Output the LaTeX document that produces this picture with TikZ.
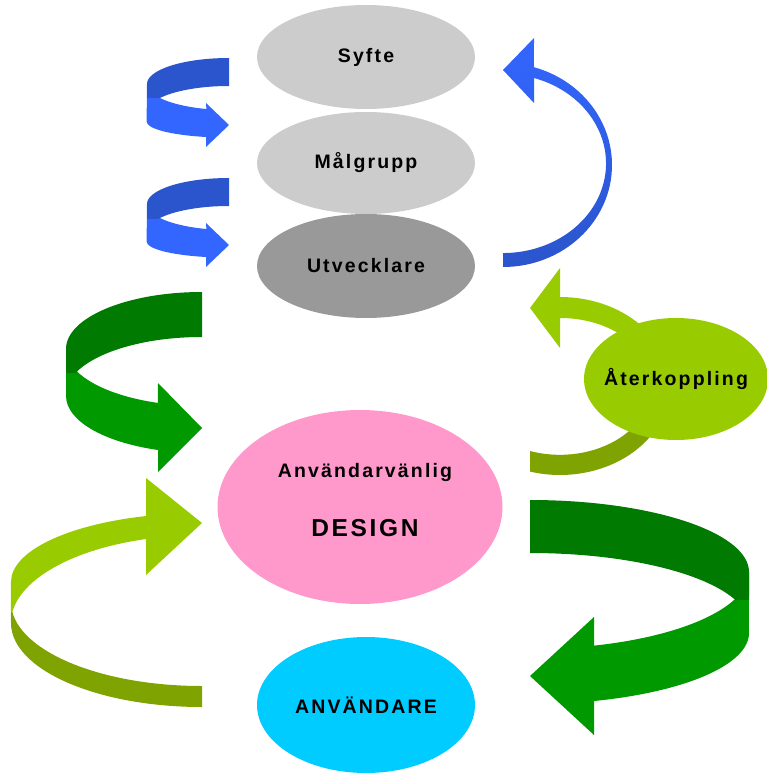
\documentclass[tikz,border=0pt]{standalone}
\usepackage{fontspec}
\setmainfont{Liberation Sans}
\newfontfamily\spacedfont[LetterSpace=11]{Liberation Sans}
\usetikzlibrary{shapes.geometric}
\definecolor{grisclair}{HTML}{CCCCCC}
\definecolor{grisfonce}{HTML}{999999}
\definecolor{rose}{HTML}{FF99CC}
\definecolor{ciel}{HTML}{00CCFF}
\definecolor{anis}{HTML}{99CC00}
\definecolor{olivefonce}{HTML}{7FA300}
\definecolor{vert}{HTML}{009900}
\definecolor{vertfonce}{HTML}{007A00}
\definecolor{bleu}{HTML}{3366FF}
\definecolor{bleufonce}{HTML}{2B55CC}
\begin{document}
\begin{tikzpicture}[x=1pt, y=1pt, yscale=-1,
	bulle/.style={ellipse, inner sep=0pt, font=\spacedfont\bfseries\fontsize{19.5}{23}\selectfont}]
	\useasboundingbox (0,0) rectangle (767,773);
	\foreach \dy in {0,120} {
		\begin{scope}[shift={(0,\dy)}]
			\fill[bleu] (147,84) arc[start angle=180, end angle=106, x radius=82, y radius=26] -- (206,103) -- (229,125) -- (206,147) -- (206,137) arc[start angle=106, end angle=180, x radius=82, y radius=16] -- cycle;
			\clip (0,0) rectangle (767,98);
			\fill[bleufonce] (229,58) arc[start angle=270, end angle=180, x radius=82, y radius=26] -- (147,112) arc[start angle=180, end angle=270, x radius=82, y radius=26] -- cycle;
		\end{scope}
	}
	\shade[top color=bleu, bottom color=bleufonce] (503,267) arc[start angle=90, end angle=-73.5, x radius=109, y radius=102] -- (534,38) -- (503,70) -- (534,103) -- (534,78) arc[start angle=-72.5, end angle=90, x radius=103, y radius=89.6] -- cycle;
	\fill[vert] (66,349) arc[start angle=180, end angle=108.9, x radius=136, y radius=57] -- (158,383) -- (202,428) -- (158,472) -- (158,450) arc[start angle=108.9, end angle=180, x radius=136, y radius=57] -- cycle;
	\begin{scope}
		\clip (0,0) rectangle (767,372);
		\fill[vertfonce] (202,292) arc[start angle=270, end angle=180, x radius=136, y radius=57] -- (66,394) arc[start angle=180, end angle=270, x radius=136, y radius=57] -- cycle;
	\end{scope}
	\fill[anis] (11,582) arc[start angle=180, end angle=253, x radius=191, y radius=69] -- (146,478) -- (202,523) -- (146,575) -- (146,539) arc[start angle=253, end angle=180, x radius=191, y radius=88] -- cycle;
	\begin{scope}
		\clip (0,612) rectangle (767,773);
		\fill[olivefonce] (202,707) arc[start angle=90, end angle=180, x radius=191, y radius=84] -- (11,602) arc[start angle=180, end angle=90, x radius=191, y radius=84] -- cycle;
	\end{scope}
	\fill[vert] (749,572) arc[start angle=0, end angle=73, x radius=219, y radius=77] -- (594,617) -- (530,676) -- (594,735) -- (594,701) arc[start angle=73, end angle=0, x radius=219, y radius=71] -- cycle;
	\begin{scope}
		\clip (0,0) rectangle (767,599);
		\fill[vertfonce] (530,500) arc[start angle=270, end angle=360, x radius=219, y radius=72] -- (749,625) arc[start angle=360, end angle=270, x radius=219, y radius=72] -- cycle;
	\end{scope}
	\fill[olivefonce] (670,385) arc[start angle=0, end angle=105.8, x radius=110, y radius=90] -- (530,451) arc[start angle=109, end angle=0, x radius=92, y radius=70] -- cycle;
	\fill[anis] (670,385) arc[start angle=0, end angle=-90, x radius=110, y radius=88] -- (560,268) -- (530,308) -- (560,348) -- (560,318) arc[start angle=-90, end angle=0, x radius=92, y radius=67] -- cycle;
	\node[bulle, fill=grisclair, minimum width=218pt, minimum height=104pt] (syfte) at (366,57) {Syfte};
	\node[bulle, fill=grisclair, minimum width=218pt, minimum height=102pt] (malgrupp) at (366,163) {Målgrupp};
	\node[bulle, fill=grisfonce, minimum width=218pt, minimum height=104pt] (utvecklare) at (366,266) {Utvecklare};
	\node[bulle, fill=anis, minimum width=184pt, minimum height=122pt, inner xsep=-30pt] (aterkoppling) at (676,379) {Återkoppling};
	\node[bulle, fill=rose, minimum width=285pt, minimum height=194pt, align=center, text depth=15pt] (design) at (360,507) {\hspace*{10pt}Användarvänlig\\[36pt]\hspace*{10pt}{\fontsize{24.5}{29}\selectfont DESIGN}};
	\node[bulle, fill=ciel, minimum width=218pt, minimum height=136pt] (anvandare) at (366,705) {ANVÄNDARE};
\end{tikzpicture}
\end{document}
